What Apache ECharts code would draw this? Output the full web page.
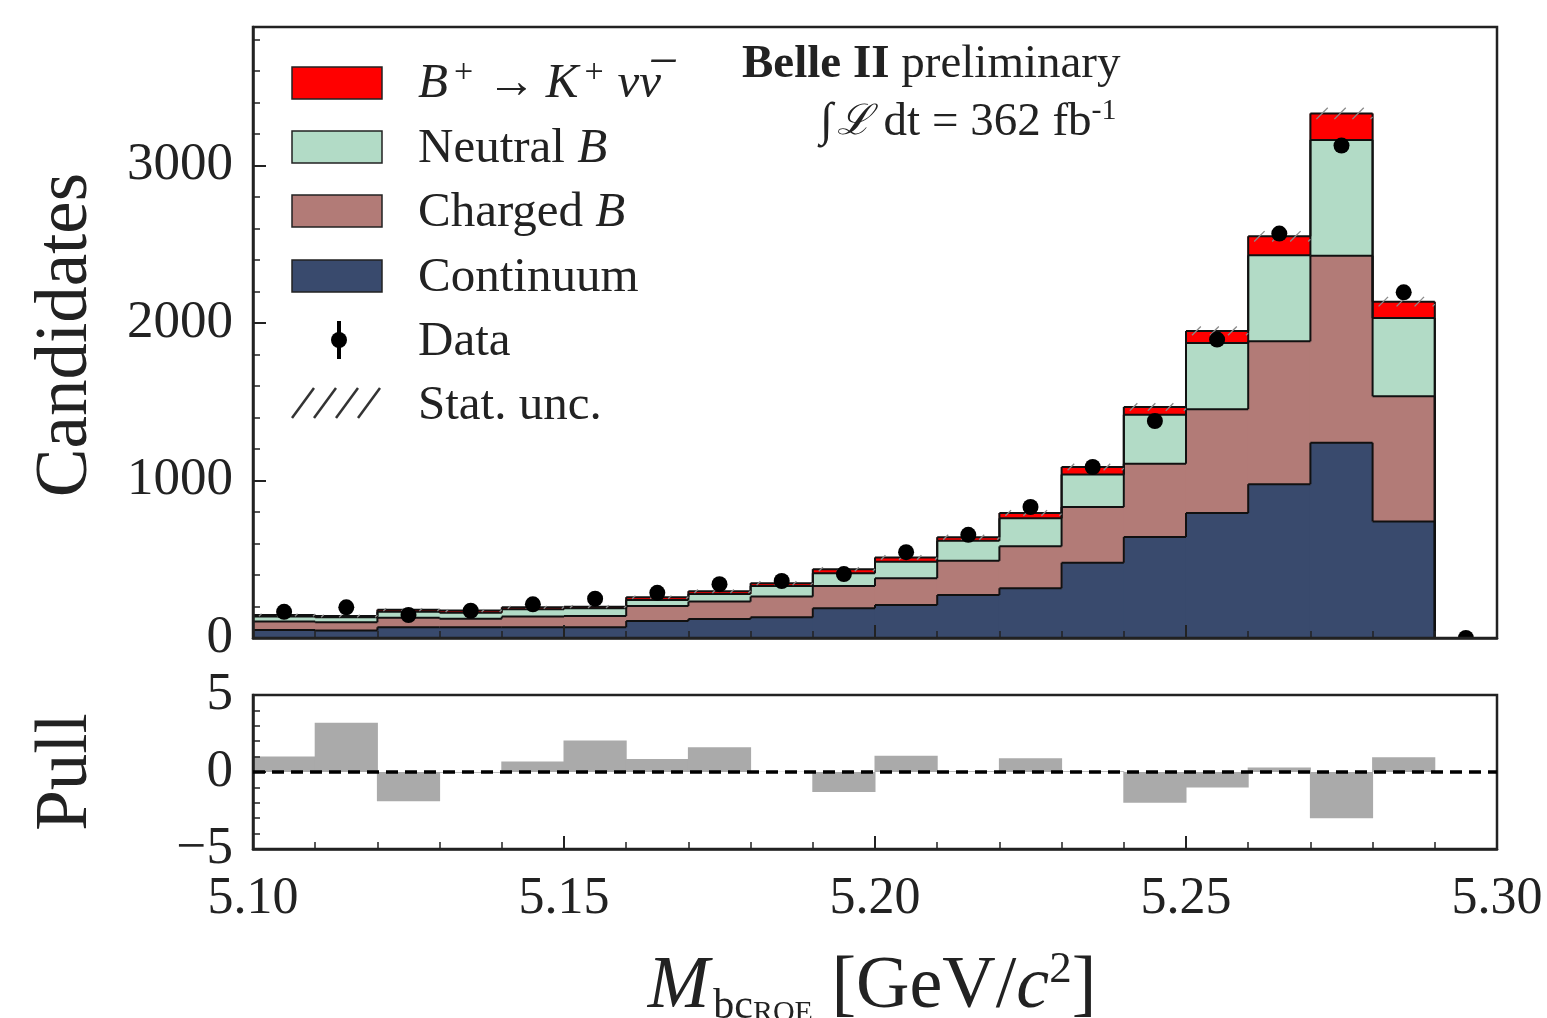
<!DOCTYPE html>
<html>
<head>
<meta charset="utf-8">
<script src="https://cdn.jsdelivr.net/npm/echarts@6/dist/echarts.min.js"></script>
<style>
html,body{margin:0;padding:0;background:#fff;}
#chart{width:1547px;height:1018px;}
</style>
</head>
<body>
<div id="chart"></div>
<script>
// ---- data ----
const binEdges = [5.10,5.11,5.12,5.13,5.14,5.15,5.16,5.17,5.18,5.19,5.20,5.21,5.22,5.23,5.24,5.25,5.26,5.27,5.28,5.29,5.30];
const continuum = [51,47,68,68,68,68,108,121,131,189,210,273,316,478,641,793,977,1240,740,0];
const chargedB  = [53,53,61,55,68,72,95,110,132,141,170,217,266,354,465,660,907,1188,795,0];
const neutralB  = [32,31,38,38,46,49,39,49,67,81,105,127,178,206,312,420,546,735,497,0];
const signal    = [10,9,13,13,13,10,17,17,18,26,26,23,34,48,49,77,121,168,104,0];
const dataCounts= [166,195,146,173,214,250,287,342,362,406,545,655,832,1086,1378,1895,2568,3127,2195,0];
const statUnc   = [8,8,9,9,9,9,10,11,12,13,14,16,18,21,24,28,33,36,30,0];
const pull      = [1.0,3.2,-1.9,-0.05,0.68,2.05,0.85,1.6,0.02,-1.3,1.05,0.05,0.9,0.05,-2.0,-1.0,0.3,-3.0,0.95,0];
const yTicksMain = [0,1000,2000,3000];
const xTickLabels = ['5.10','5.15','5.20','5.25','5.30'];

const FONT = "'Liberation Serif','DejaVu Serif',serif";
const TXT = '#222';
const colors = {signal:'#ff0000', neutral:'#b2dbc6', charged:'#b27b77', continuum:'#394a6d'};

// ---- build stacked layers ----
const layers = [
  {vals: continuum, color: colors.continuum},
  {vals: chargedB,  color: colors.charged},
  {vals: neutralB,  color: colors.neutral},
  {vals: signal,    color: colors.signal}
];
const nb = binEdges.length - 1;
let cum = new Array(nb).fill(0);
const layerItems = layers.map(l => {
  const lo = cum.slice();
  const hi = cum.map((c,i) => c + l.vals[i]);
  cum = hi;
  return hi.map((h,i) => [binEdges[i], binEdges[i+1], lo[i], h, i === 0 ? 0 : hi[i-1]]);
});
const totals = cum;

function stackRender(color) {
  return function(params, api) {
    const x0 = api.value(0), x1 = api.value(1), lo = api.value(2), hi = api.value(3), prev = api.value(4);
    const pLo = api.coord([x0, lo]);
    const pHi = api.coord([x1, hi]);
    const pPrev = api.coord([x0, prev]);
    const left = pLo[0], right = pHi[0];
    return {
      type: 'group',
      children: [
        {type:'rect', shape:{x:left - 0.6, y:pHi[1], width:right-left + 1.2, height:pLo[1]-pHi[1]}, style:{fill:color}, z2:1},
        {type:'line', shape:{x1:left, y1:pHi[1], x2:right, y2:pHi[1]}, style:{stroke:'#111', lineWidth:2}, z2:10},
        {type:'line', shape:{x1:left, y1:pPrev[1], x2:left, y2:pHi[1]}, style:{stroke:'#111', lineWidth:2}, z2:10}
      ]
    };
  };
}

const series = layerItems.map((items, k) => ({
  type: 'custom',
  xAxisIndex: 0, yAxisIndex: 0,
  renderItem: stackRender(layers[k].color),
  encode: {x:[0,1], y:[2,3]},
  data: items,
  silent: true
}));

// stat. unc. hatch band
const hatchItems = totals.map((t,i) => [binEdges[i], binEdges[i+1], t, statUnc[i]]).filter(d => d[2] > 0);
series.push({
  type: 'custom', xAxisIndex:0, yAxisIndex:0, silent:true,
  encode: {x:[0,1], y:[2]},
  data: hatchItems,
  renderItem: function(params, api) {
    const x0 = api.value(0), x1 = api.value(1), t = api.value(2), u = api.value(3);
    const a = api.coord([x0, t - u]);
    const b = api.coord([x1, t + u]);
    const h = a[1] - b[1];
    const children = [];
    for (let x = a[0] + 6; x < b[0] - 2; x += 18) {
      const xe = Math.min(x + h, b[0]);
      children.push({type:'line', shape:{x1:x, y1:a[1], x2:xe, y2:a[1] - (xe - x)}, style:{stroke:'#8a8a8a', lineWidth:1.3}, z2:20});
    }
    return {type:'group', children};
  }
});

// data points
series.push({
  type:'custom', xAxisIndex:0, yAxisIndex:0, z:5, clip:true, silent:true,
  encode:{x:0, y:1},
  data: dataCounts.map((v,i) => [(binEdges[i] + binEdges[i+1]) / 2, v]),
  renderItem: function(params, api) {
    const p = api.coord([api.value(0), api.value(1)]);
    return {type:'circle', shape:{cx:p[0], cy:p[1], r:8}, style:{fill:'#000'}, z2:30};
  }
});

// pull bars
series.push({
  type:'custom', xAxisIndex:1, yAxisIndex:1, silent:true,
  encode:{x:[0,1], y:[2]},
  data: pull.map((p,i) => [binEdges[i], binEdges[i+1], p]),
  renderItem: function(params, api) {
    const a = api.coord([api.value(0), 0]);
    const b = api.coord([api.value(1), api.value(2)]);
    return {type:'rect', shape:{x:a[0] - 0.5, y:Math.min(a[1], b[1]), width:b[0]-a[0] + 1, height:Math.abs(b[1]-a[1])}, style:{fill:'#aaaaaa'}};
  }
});
// dashed zero line of the pull panel
series.push({
  type:'custom', xAxisIndex:1, yAxisIndex:1, z:12, silent:true,
  encode:{x:[0,1], y:2},
  data: [[binEdges[0], binEdges[nb], 0]],
  renderItem: function(params, api) {
    const a = api.coord([api.value(0), api.value(2)]);
    const b = api.coord([api.value(1), api.value(2)]);
    return {type:'line', shape:{x1:a[0], y1:a[1], x2:b[0], y2:b[1]}, style:{stroke:'#000', lineWidth:3.5, lineDash:[12,7]}, z2:40};
  }
});

const axisCommon = {
  axisLine:{show:true, onZero:false, lineStyle:{color:TXT, width:2.5}},
  axisTick:{show:true, inside:true, length:13, lineStyle:{color:TXT, width:2}},
  minorTick:{show:true, splitNumber:5, length:7, lineStyle:{color:TXT, width:1.5}},
  splitLine:{show:false},
  z: 10
};

const option = {
  animation:false,
  backgroundColor:'#fff',
  grid:[
    {left:253, top:27, width:1244, height:611, show:true, borderColor:TXT, borderWidth:2.5, z:10},
    {left:253, top:695, width:1244, height:154, show:true, borderColor:TXT, borderWidth:2.5, z:10}
  ],
  xAxis:[
    Object.assign({type:'value', gridIndex:0, min:binEdges[0], max:binEdges[nb], interval:0.05,
      axisLabel:{show:false}}, axisCommon),
    Object.assign({type:'value', gridIndex:1, min:binEdges[0], max:binEdges[nb], interval:0.05,
      axisLabel:{show:true, margin:24, fontFamily:FONT, fontSize:52, color:TXT,
        formatter: v => { const i = Math.round((v - binEdges[0]) / 0.05); return xTickLabels[i] || ''; }}}, axisCommon)
  ],
  yAxis:[
    Object.assign({type:'value', gridIndex:0, min:yTicksMain[0], max:3880, interval:1000,
      axisLabel:{show:true, margin:20, fontFamily:FONT, fontSize:53, color:TXT, showMaxLabel:false,
        formatter: v => yTicksMain.indexOf(v) >= 0 ? String(v) : ''}}, axisCommon),
    Object.assign({type:'value', gridIndex:1, min:-5, max:5, interval:5,
      axisLabel:{show:true, margin:20, fontFamily:FONT, fontSize:53, color:TXT,
        formatter: v => v < 0 ? '\u2212' + Math.abs(v) : String(v)}}, axisCommon)
  ],
  graphic:[
    // axis titles
    {type:'text', x:67, y:335, rotation:Math.PI/2, style:{text:'Candidates', font:'73px ' + FONT, fill:TXT, align:'center', verticalAlign:'middle'}},
    {type:'text', x:67, y:772, rotation:Math.PI/2, style:{text:'Pull', font:'73px ' + FONT, fill:TXT, align:'center', verticalAlign:'middle'}},
    {type:'text', x:872, y:988, style:{
      text:'{it|M}{sub|bc}{subs|ROE}{rm| [GeV/}{it|c}{sup|2}{rm|]}',
      align:'center', verticalAlign:'middle', fill:TXT,
      rich:{
        it:{fontFamily:FONT, fontStyle:'italic', fontSize:74, fill:TXT, lineHeight:80},
        rm:{fontFamily:FONT, fontSize:74, fill:TXT, lineHeight:80},
        sub:{fontFamily:FONT, fontSize:42, fill:TXT, verticalAlign:'bottom', padding:[0,0,0,4]},
        subs:{fontFamily:FONT, fontSize:30, fill:TXT, verticalAlign:'bottom'},
        sup:{fontFamily:FONT, fontSize:45, fill:TXT, verticalAlign:'top'}
      }}},
    // legend boxes
    {type:'rect', shape:{x:292, y:67, width:90, height:32}, style:{fill:colors.signal, stroke:'#222', lineWidth:1.5}},
    {type:'rect', shape:{x:292, y:131, width:90, height:32}, style:{fill:colors.neutral, stroke:'#222', lineWidth:1.5}},
    {type:'rect', shape:{x:292, y:195, width:90, height:32}, style:{fill:colors.charged, stroke:'#222', lineWidth:1.5}},
    {type:'rect', shape:{x:292, y:260, width:90, height:32}, style:{fill:colors.continuum, stroke:'#222', lineWidth:1.5}},
    {type:'line', shape:{x1:339, y1:321, x2:339, y2:359}, style:{stroke:'#000', lineWidth:4}},
    {type:'circle', shape:{cx:339, cy:340, r:8}, style:{fill:'#000'}},
    {type:'line', shape:{x1:292, y1:418, x2:314, y2:388}, style:{stroke:'#333', lineWidth:2.5}},
    {type:'line', shape:{x1:314, y1:418, x2:336, y2:388}, style:{stroke:'#333', lineWidth:2.5}},
    {type:'line', shape:{x1:336, y1:418, x2:358, y2:388}, style:{stroke:'#333', lineWidth:2.5}},
    {type:'line', shape:{x1:358, y1:418, x2:380, y2:388}, style:{stroke:'#333', lineWidth:2.5}},
    // legend labels
    {type:'text', x:418, y:84, style:{
      text:'{b|B}{sup|+}{r|\u2009\u2192\u2009}{b|K}{sup|+}{b|\u2009\u03BD\u03BD\u0305}', verticalAlign:'middle', fill:TXT,
      rich:{
        b:{fontFamily:FONT, fontStyle:'italic', fontSize:49, fill:TXT, lineHeight:56},
        r:{fontFamily:FONT, fontSize:49, fill:TXT, lineHeight:56},
        sup:{fontFamily:FONT, fontSize:34, fill:TXT, verticalAlign:'top', padding:[0,4,0,6]}
      }}},
    {type:'text', x:418, y:149, style:{text:'Neutral {b|B}', font:'49px ' + FONT, fill:TXT, verticalAlign:'middle',
      rich:{b:{fontFamily:FONT, fontStyle:'italic', fontSize:49, fill:TXT}}}},
    {type:'text', x:418, y:213, style:{text:'Charged {b|B}', font:'49px ' + FONT, fill:TXT, verticalAlign:'middle',
      rich:{b:{fontFamily:FONT, fontStyle:'italic', fontSize:49, fill:TXT}}}},
    {type:'text', x:418, y:278, style:{text:'Continuum', font:'49px ' + FONT, fill:TXT, verticalAlign:'middle'}},
    {type:'text', x:418, y:342, style:{text:'Data', font:'49px ' + FONT, fill:TXT, verticalAlign:'middle'}},
    {type:'text', x:418, y:406, style:{text:'Stat. unc.', font:'49px ' + FONT, fill:TXT, verticalAlign:'middle'}},
    // experiment label
    {type:'text', x:742, y:65, style:{
      text:'{bd|Belle II}{r| preliminary}', verticalAlign:'middle', fill:TXT,
      rich:{bd:{fontFamily:FONT, fontWeight:'bold', fontSize:47, fill:TXT}, r:{fontFamily:FONT, fontSize:47, fill:TXT}}}},
    {type:'text', x:820, y:123, style:{
      text:'{r|\u222B}{l|\u2112}{r| dt = 362 fb}{sup|-1}', verticalAlign:'middle', fill:TXT,
      rich:{
        r:{fontFamily:FONT, fontSize:47, fill:TXT, lineHeight:54},
        l:{fontFamily:"'DejaVu Serif',serif", fontStyle:'italic', fontSize:42, fill:TXT, lineHeight:54, padding:[0,0,0,4]},
        sup:{fontFamily:FONT, fontSize:30, fill:TXT, verticalAlign:'top'}
      }}}
  ],
  series: series
};

const chart = echarts.init(document.getElementById('chart'), null, {renderer:'canvas'});
chart.setOption(option);
</script>
</body>
</html>
